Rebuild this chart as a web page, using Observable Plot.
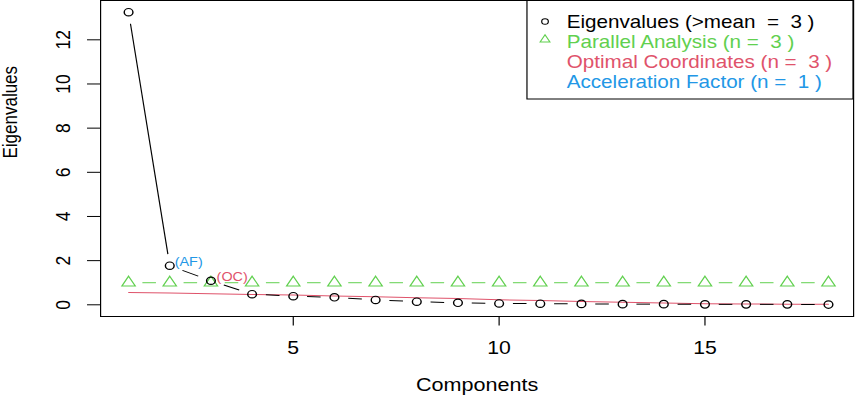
<!DOCTYPE html>
<html><head><meta charset="utf-8">
<script src="https://cdn.jsdelivr.net/npm/d3@7"></script>
<script src="https://cdn.jsdelivr.net/npm/@observablehq/plot@0.6"></script>
<style>html,body{margin:0;padding:0;background:#fff;overflow:hidden}</style>
</head><body><div id="chart"></div>
<script>
// ---- data ----
const components = [1,2,3,4,5,6,7,8,9,10,11,12,13,14,15,16,17,18];
const eigenvalues = [13.25,1.77,1.09,0.48,0.39,0.34,0.22,0.14,0.09,0.06,0.05,0.04,0.03,0.03,0.02,0.02,0.02,0.01];
const parallelAnalysis = [1,1,1,1,1,1,1,1,1,1,1,1,1,1,1,1,1,1];
const optimalCoordinates = [0.56,0.53,0.50,0.47,0.44,0.40,0.36,0.32,0.28,0.23,0.19,0.15,0.11,0.08,0.05,0.04,0.03,0.02];
const xTicks = [5,10,15];
const yTicks = [0,2,4,6,8,10,12];
const legendLabels = ["Eigenvalues (>mean  =  3 )","Parallel Analysis (n =  3 )","Optimal Coordinates (n =  3 )","Acceleration Factor (n =  1 )"];
const legendColors = ["#000000","#61D04F","#DF536B","#2297E6"];
const afComponent = 2, ocComponent = 3;

// ---- layout ----
const S = 1.18;               // horizontal stretch of the reference
const W = 857, H = 396, W0 = W / S;
const ml = 100 / S, mr = 4 / S, mt = 0, mb = 80;
const xDomain = [0.32, 18.61], yDomain = [-0.53, 13.78];
const font = "'Liberation Sans', Arial, sans-serif";
const green = "#61D04F", red = "#DF536B", blue = "#2297E6";

const eig = components.map((c, i) => ({c, v: eigenvalues[i]}));
const pa = components.map((c, i) => ({c, v: parallelAnalysis[i]}));
const oc = components.map((c, i) => ({c, v: optimalCoordinates[i]}));

// R type="b": segments with a gap around each point
function gapped(rows, gap) {
  const sx = d3.scaleLinear(xDomain, [ml, W0 - mr]);
  const sy = d3.scaleLinear(yDomain, [H - mb, mt]);
  const out = [];
  for (let i = 0; i < rows.length - 1; i++) {
    const a = rows[i], b = rows[i + 1];
    const x1 = sx(a.c), y1 = sy(a.v), x2 = sx(b.c), y2 = sy(b.v);
    const dx = x2 - x1, dy = y2 - y1, len = Math.hypot(dx, dy);
    if (len <= 2 * gap) continue;
    const t = gap / len;
    out.push({x1: sx.invert(x1 + dx * t), y1: sy.invert(y1 + dy * t),
              x2: sx.invert(x2 - dx * t), y2: sy.invert(y2 - dy * t)});
  }
  return out;
}

const plot = Plot.plot({
  width: W0, height: H,
  marginLeft: ml, marginRight: mr, marginTop: mt, marginBottom: mb,
  style: {fontFamily: font, fontSize: "18px", background: "#fff", color: "#000"},
  x: {domain: xDomain, label: null},
  y: {domain: yDomain, label: null},
  marks: [
    Plot.frame({stroke: "#000", strokeWidth: 1}),
    Plot.axisX({ticks: xTicks, tickSize: 9.5, tickPadding: 15, label: null, fontSize: 18, stroke: "#000"}),
    Plot.axisY({ticks: yTicks, tickSize: 11, tickFormat: () => "", label: null, stroke: "#000"}),
    Plot.text(yTicks, {y: d => d, text: d => String(d), frameAnchor: "left", dx: -31.4, rotate: -90,
      textAnchor: "middle", lineAnchor: "middle", fontSize: 17.5, fill: "#000"}),
    Plot.text(["Components"], {frameAnchor: "bottom", dy: 68.8, lineAnchor: "middle", fontSize: 18.3, fill: "#000"}),
    Plot.text(["Eigenvalues"], {frameAnchor: "left", dx: -(ml - 8.8), rotate: -90, lineAnchor: "middle", fontSize: 17, fill: "#000"}),
    Plot.line(oc, {x: "c", y: "v", stroke: red, strokeWidth: 1}),
    Plot.link(gapped(pa, 11.7), {x1: "x1", y1: "y1", x2: "x2", y2: "y2", stroke: green, strokeWidth: 1}),
    Plot.dot(pa, {x: "c", y: "v", symbol: "triangle", r: 4.2, stroke: green, strokeWidth: 1.1, fill: "none"}),
    Plot.link(gapped(eig, 11.7), {x1: "x1", y1: "y1", x2: "x2", y2: "y2", stroke: "#000", strokeWidth: 1}),
    Plot.dot(eig, {x: "c", y: "v", r: 3.7, stroke: "#000", strokeWidth: 1.2, fill: "none"}),
    Plot.text([eig[afComponent - 1]], {x: "c", y: "v", text: () => "(AF)", dx: 4.2, dy: -3.5,
      textAnchor: "start", lineAnchor: "middle", fontSize: 12.2, fill: blue}),
    Plot.text([eig[ocComponent - 1]], {x: "c", y: "v", text: () => "(OC)", dx: 4.8, dy: -4,
      textAnchor: "start", lineAnchor: "middle", fontSize: 12.2, fill: red})
  ]
});

// legend (top-right inside the frame, like R's legend("topright"))
const svg = d3.select(plot);
const lw = 276.3, lh = 98.5, lx = W0 - mr - lw;
const lg = svg.append("g").attr("font-family", font).attr("font-size", 17.5).attr("text-anchor", "start");
lg.append("rect").attr("x", lx).attr("y", 0.5).attr("width", lw).attr("height", lh)
  .attr("fill", "#fff").attr("stroke", "#000").attr("stroke-width", 1);
lg.append("circle").attr("cx", lx + 15.3).attr("cy", 21.5).attr("r", 2.8)
  .attr("fill", "none").attr("stroke", "#000").attr("stroke-width", 1);
lg.append("path").attr("d", d3.symbol(d3.symbolTriangle, 30)())
  .attr("transform", `translate(${lx + 15.3},${39.5})`)
  .attr("fill", "none").attr("stroke", green).attr("stroke-width", 1);
legendLabels.forEach((t, i) => {
  lg.append("text").attr("x", lx + 33.7).attr("y", 21.5 + 20 * i).attr("dy", "0.35em")
    .attr("text-anchor", "start").attr("fill", legendColors[i]).text(t);
});

// stretch horizontally to match the reference aspect
plot.setAttribute("preserveAspectRatio", "none");
plot.setAttribute("width", W);
plot.setAttribute("height", H);
plot.style.width = W + "px";
plot.style.height = H + "px";
plot.style.maxWidth = "none";
document.getElementById("chart").appendChild(plot);
</script></body></html>
